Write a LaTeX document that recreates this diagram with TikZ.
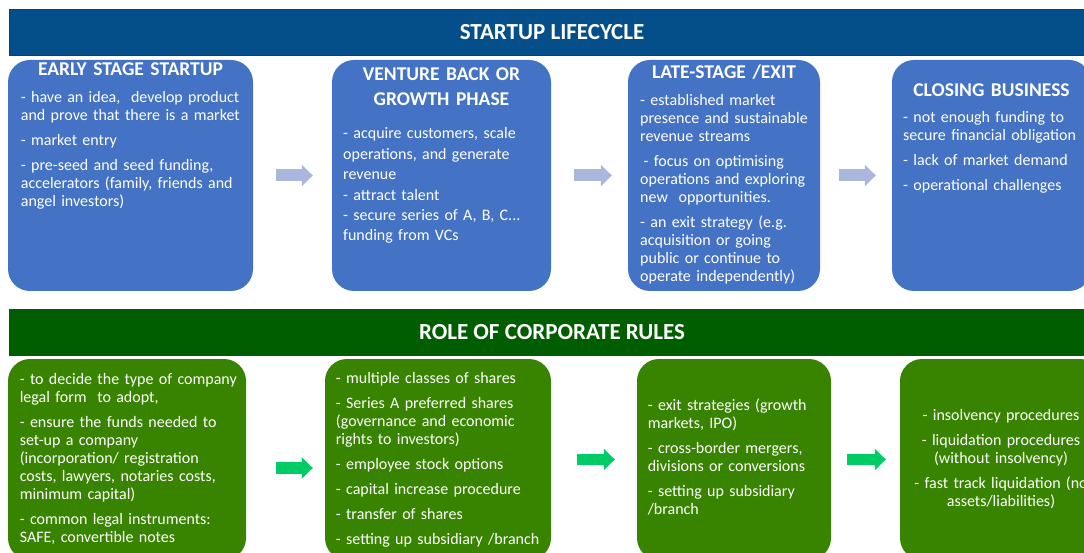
\documentclass[tikz,border=0pt]{standalone}
\usepackage{fontspec}
\setmainfont{Carlito}
\usetikzlibrary{arrows.meta}
\definecolor{bannerblue}{RGB}{4,78,138}
\definecolor{bannerline}{RGB}{31,56,100}
\definecolor{bannergreen}{RGB}{0,94,0}
\definecolor{boxblue}{RGB}{68,114,196}
\definecolor{boxgreen}{RGB}{56,132,0}
\definecolor{arrowblue}{RGB}{170,183,220}
\definecolor{arrowgreen}{RGB}{0,204,102}
\newcommand{\itemgap}{\\[7pt]}

\begin{document}
\begin{tikzpicture}[x=1pt,y=-1pt,
  banner/.style={draw=bannerline,line width=0.8pt,minimum width=1086pt,minimum height=46pt,inner sep=0pt,text=white,font=\fontsize{23}{27}\selectfont\bfseries},
  stagebox/.style={fill=boxblue,rounded corners=22pt,minimum height=231pt,inner sep=0pt},
  rulebox/.style={fill=boxgreen,rounded corners=22pt,minimum height=201pt,inner sep=0pt},
  heading/.style={anchor=base,inner sep=0pt,text=white,text width=240pt,align=center,font=\fontsize{19.5}{25}\selectfont\bfseries},
  bodytext/.style={anchor=base west,inner sep=0pt,text=white,text width=260pt,align=left,font=\fontsize{16}{18}\selectfont},
  stagearrow/.style={draw=arrowblue,line width=12pt,-{Triangle[length=11pt,width=21pt]}},
  rulearrow/.style={draw=arrowgreen,line width=11.5pt,-{Triangle[length=11pt,width=21pt]}}]
\clip (0,0) rectangle (1084,553);

% startup lifecycle
\node[banner,fill=bannerblue] (lifecycle) at (552,32) {STARTUP LIFECYCLE};
\node[stagebox,minimum width=245pt] (early) at (130.5,175.5) {};
\node[stagebox,minimum width=219pt] (growth) at (441.5,175.5) {};
\node[stagebox,minimum width=192pt] (late) at (724,175.5) {};
\node[stagebox,minimum width=199pt] (closing) at (991.5,175.5) {};

\draw[stagearrow,shorten <=23pt,shorten >=19pt] (early) -- (growth);
\draw[stagearrow,shorten <=23pt,shorten >=16pt] (growth) -- (late);
\draw[stagearrow,shorten <=19pt,shorten >=16pt] (late) -- (closing);

\node[heading] (earlyhead) at (130.5,75.3) {EARLY STAGE STARTUP};
\node[heading] (growthhead) at (441.5,80.3) {VENTURE BACK OR\\GROWTH PHASE};
\node[heading] (latehead) at (724,79) {LATE-STAGE /EXIT};
\node[heading] (closinghead) at (991.5,96.3) {CLOSING BUSINESS};

\node[bodytext] (earlytext) at (20.7,103) {- have an idea,\ \ develop product\\and prove that there is a market\itemgap
- market entry\itemgap
- pre-seed and seed funding,\\accelerators (family, friends and\\angel investors)};
\node[bodytext,font=\fontsize{16}{20.4}\selectfont] (growthtext) at (343,139) {- acquire customers, scale\\operations, and generate\\revenue\\
- attract talent\\
- secure series of A, B, C...\\funding from VCs};
\node[bodytext] (latetext) at (640,105.7) {- established market\\presence and sustainable\\revenue streams\itemgap
\hspace*{3.5pt}- focus on optimising\\operations and exploring\\new\ \ opportunities.\itemgap
- an exit strategy (e.g.\\acquisition or going\\public or continue to\\operate independently)};
\node[bodytext] (closingtext) at (903,123) {- not enough funding to\\secure financial obligation\itemgap
- lack of market demand\itemgap
- operational challenges};

% role of corporate rules
\node[banner,fill=bannergreen] (corporate) at (552,332.5) {ROLE OF CORPORATE RULES};
\node[rulebox,minimum width=238pt] (legal) at (127,459.5) {};
\node[rulebox,minimum width=226pt] (shares) at (438,459.5) {};
\node[rulebox,minimum width=194pt] (merger) at (734,459.5) {};
\node[rulebox,minimum width=202pt] (insolvency) at (1001,459.5) {};

\draw[rulearrow,shorten <=30pt,shorten >=12pt] ([yshift=-8.5pt]legal.east) -- ([yshift=-8.5pt]shares.west);
\draw[rulearrow,shorten <=26pt,shorten >=22pt] (shares) -- (merger);
\draw[rulearrow,shorten <=16pt,shorten >=14pt] (merger) -- (insolvency);

\node[bodytext] (legaltext) at (19.6,384) {- to decide the type of company\\legal form\ \ to adopt,\itemgap
- ensure the funds needed to\\set-up a company\\(incorporation/ registration\\costs, lawyers, notaries costs,\\minimum capital)\itemgap
- common legal instruments:\\SAFE, convertible notes};
\node[bodytext] (sharestext) at (335.7,383) {- multiple classes of shares\itemgap
- Series A preferred shares\\(governance and economic\\rights to investors)\itemgap
- employee stock options\itemgap
- capital increase procedure\itemgap
- transfer of shares\itemgap
- setting up subsidiary /branch};
\node[bodytext] (mergertext) at (647.6,410) {- exit strategies (growth\\markets, IPO)\itemgap
- cross-border mergers,\\divisions or conversions\itemgap
- setting up subsidiary\\/branch};
\node[bodytext,anchor=base,align=center,text width=240pt] (insolvencytext) at (1001,420) {- insolvency procedures\itemgap
- liquidation procedures\\(without insolvency)\itemgap
- fast track liquidation (no\\assets/liabilities)};
\end{tikzpicture}
\end{document}
